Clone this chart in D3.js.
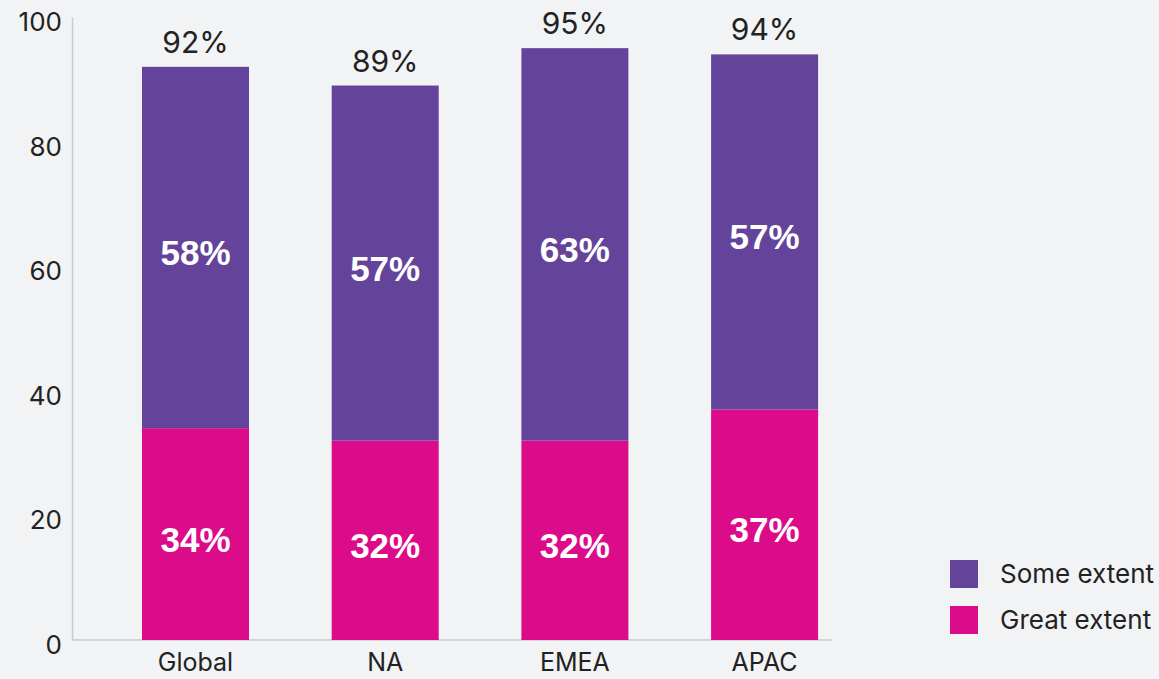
<!DOCTYPE html>
<html>
<head>
<meta charset="utf-8">
<script src="https://cdn.jsdelivr.net/npm/d3@7"></script>
<style>
  html, body { margin: 0; padding: 0; background: #f2f3f5; }
  svg { display: block; }
</style>
</head>
<body>
<script>
// data
const regions = ["Global", "NA", "EMEA", "APAC"];
const greatExtent = [34, 32, 32, 37];
const someExtent = [58, 57, 63, 57];
const totals = [92, 89, 95, 94];
const yTicks = [0, 20, 40, 60, 80, 100];
const seriesNames = ["Some extent", "Great extent"];
const seriesColors = ["#64449a", "#dc0b8a"];

const width = 1159, height = 679;
const svg = d3.select("body").append("svg")
  .attr("width", width)
  .attr("height", height);

const x = d3.scaleBand()
  .domain(regions)
  .range([100.65, 859.45])
  .paddingInner(0.436)
  .paddingOuter(0.218);

const y = d3.scaleLinear()
  .domain([0, 100])
  .range([640, 17]);

const rows = regions.map((r, i) => ({
  region: r, great: greatExtent[i], some: someExtent[i], total: totals[i]
}));

const font = "Inter, 'Noto Sans', sans-serif";

// y axis (line + labels, no tick marks)
const yAxis = svg.append("g")
  .attr("transform", "translate(72,0)")
  .call(d3.axisLeft(y).tickValues(yTicks).tickSize(0).tickPadding(10));
yAxis.select(".domain").attr("stroke", "#c9cacd").attr("stroke-width", 1.5);
yAxis.selectAll("text")
  .attr("font-family", font)
  .attr("font-size", 26)
  .attr("fill", "#222")
  .attr("dy", "0.52em");

// x axis baseline
svg.append("line")
  .attr("x1", 72).attr("x2", 832)
  .attr("y1", y(0)).attr("y2", y(0))
  .attr("stroke", "#c9cacd").attr("stroke-width", 1.5);

// stacked bars
const g = svg.append("g");
g.selectAll(".great").data(rows).join("rect")
  .attr("x", d => x(d.region))
  .attr("width", x.bandwidth())
  .attr("y", d => y(d.great))
  .attr("height", d => y(0) - y(d.great))
  .attr("fill", seriesColors[1]);

g.selectAll(".some").data(rows).join("rect")
  .attr("x", d => x(d.region))
  .attr("width", x.bandwidth())
  .attr("y", d => y(d.great + d.some))
  .attr("height", d => y(d.great) - y(d.great + d.some))
  .attr("fill", seriesColors[0]);

// inside labels
const boldFont = "'Liberation Sans', Arial, sans-serif";
g.selectAll(".lblGreat").data(rows).join("text")
  .attr("x", d => x(d.region) + x.bandwidth() / 2)
  .attr("y", d => (y(0) + y(d.great)) / 2 + 5)
  .attr("text-anchor", "middle")
  .attr("dominant-baseline", "central")
  .attr("font-family", boldFont)
  .attr("font-weight", "bold")
  .attr("font-size", 35)
  .attr("fill", "#fff")
  .text(d => d.great + "%");

g.selectAll(".lblSome").data(rows).join("text")
  .attr("x", d => x(d.region) + x.bandwidth() / 2)
  .attr("y", d => (y(d.great) + y(d.great + d.some)) / 2 + 5)
  .attr("text-anchor", "middle")
  .attr("dominant-baseline", "central")
  .attr("font-family", boldFont)
  .attr("font-weight", "bold")
  .attr("font-size", 35)
  .attr("fill", "#fff")
  .text(d => d.some + "%");

// totals above bars
g.selectAll(".lblTotal").data(rows).join("text")
  .attr("x", d => x(d.region) + x.bandwidth() / 2)
  .attr("y", d => y(d.great + d.some) - 14)
  .attr("text-anchor", "middle")
  .attr("font-family", font)
  .attr("font-size", 30)
  .attr("fill", "#222")
  .text(d => d.total + "%");

// category labels
g.selectAll(".cat").data(rows).join("text")
  .attr("x", d => x(d.region) + x.bandwidth() / 2)
  .attr("y", 671)
  .attr("text-anchor", "middle")
  .attr("font-family", font)
  .attr("font-size", 25)
  .attr("fill", "#222")
  .text(d => d.region);

// legend
const legend = svg.append("g").attr("transform", "translate(950,560)");
seriesNames.forEach((name, i) => {
  const row = legend.append("g").attr("transform", `translate(0,${i * 46})`);
  row.append("rect").attr("width", 28).attr("height", 28).attr("fill", seriesColors[i]);
  row.append("text")
    .attr("x", 50).attr("y", 13)
    .attr("dominant-baseline", "central")
    .attr("font-family", font)
    .attr("font-size", 26)
    .attr("fill", "#222")
    .text(name);
});
</script>
</body>
</html>
